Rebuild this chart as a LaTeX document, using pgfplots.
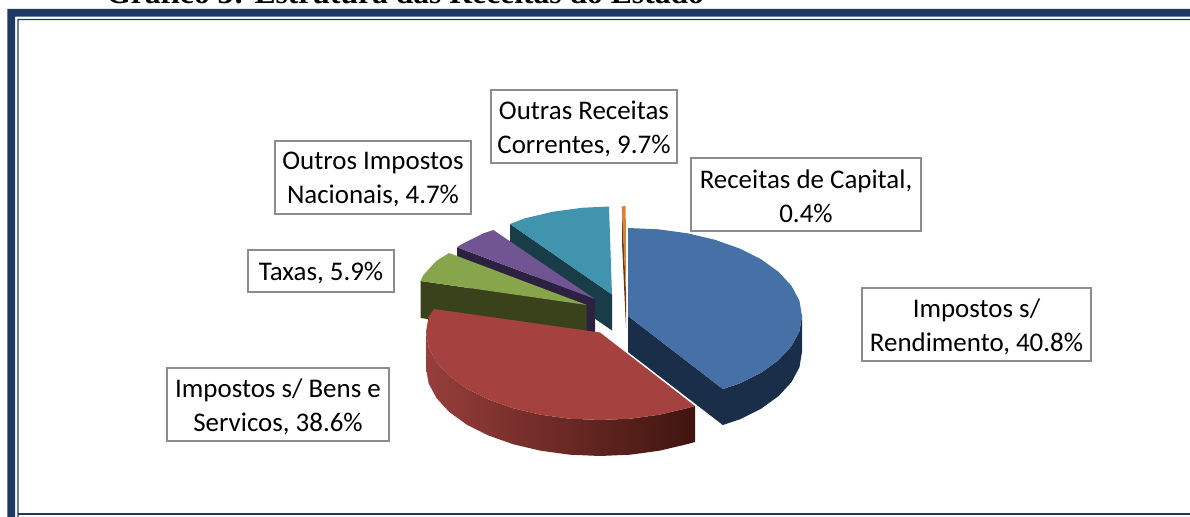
\documentclass[border=0pt]{standalone}
\usepackage{pgfplots}
\pgfplotsset{compat=1.18}
\usepackage{fontspec}
\setmainfont{Carlito}
\newfontfamily\titlefont{Liberation Serif}
\definecolor{frame}{HTML}{1F3864}
\definecolor{boxg}{HTML}{8C8C8C}
\definecolor{cblue}{HTML}{4571A7}
\definecolor{cblueS}{HTML}{1B2E49}
\definecolor{cred}{HTML}{A5423F}
\definecolor{credL}{HTML}{973E3B}
\definecolor{credM}{HTML}{73302C}
\definecolor{credR}{HTML}{40150F}
\definecolor{cgreen}{HTML}{87A54B}
\definecolor{cgreenS}{HTML}{3A421B}
\definecolor{cpurple}{HTML}{715593}
\definecolor{cpurpleS}{HTML}{2C2140}
\definecolor{cteal}{HTML}{4094AD}
\definecolor{ctealS}{HTML}{183C48}
\definecolor{corange}{HTML}{D98137}
\definecolor{corangeS}{HTML}{6B3A12}
\newcommand{\lbl}[5]{\node[draw=boxg,line width=1pt,fill=white,inner sep=0pt,
  minimum width=#3*0.75pt,minimum height=#4*0.75pt] at (axis cs:#1,#2) {};
  \node[inner sep=0pt,align=center,yshift=-1.5pt,font=\fontsize{20.2}{25.5}\selectfont] at (axis cs:#1,#2) {#5};}
\begin{document}
\begin{tikzpicture}
\begin{axis}[hide axis,scale only axis,width=892.5pt,height=387.75pt,
  xmin=0,xmax=1190,ymin=0,ymax=517,y dir=reverse]
% page extent
\addplot[fill=white,draw=none] coordinates {(0,0) (1190,0) (1190,517) (0,517)} -- cycle;
% frame
\addplot[fill=frame,draw=none] coordinates {(7.3,9) (1190,9) (1190,16.7) (15,16.7) (15,517) (7.3,517)} -- cycle;
\addplot[fill=frame,draw=none] coordinates {(17.3,19) (1190,19) (1190,20.2) (18.5,20.2) (18.5,517) (17.3,517)} -- cycle;
\addplot[fill=frame,draw=none] coordinates {(18,512.7) (1190,512.7) (1190,515) (18,515)} -- cycle;
% teal
\addplot[fill=ctealS,draw=none] coordinates {(510,224) (612,294.5) (612,330.5) (510,260)} -- cycle;
\addplot[fill=cteal,draw=none] coordinates {(510,224) (525,218.3) (552.5,211.8) (581.8,207.8) (609,206.5) (612,294.5)} -- cycle;
% orange
\addplot[fill=corangeS,draw=none] coordinates {(622,206.5) (626,292) (626,328) (622,242)} -- cycle;
\addplot[fill=corange,draw=none] coordinates {(621.7,206.5) (625.7,206) (626,292)} -- cycle;
% purple
\addplot[fill=cpurpleS,draw=none] coordinates {(457,247.3) (595,299) (595,335) (457,283.3)} -- cycle;
\addplot[fill=cpurple,draw=none] coordinates {(457,247.3) (462,244) (483,233.5) (493.3,230) (595,299)} -- cycle;
% green
\addplot[fill=cgreenS,draw=none] coordinates {(420.5,281) (586.7,305) (586.7,341) (420.5,318)} -- cycle;
\addplot[fill=cgreen,draw=none] coordinates {(420.5,281) (423.5,274.9) (436.3,261) (449,253) (586.7,305)} -- cycle;
% red
\addplot[draw=none,left color=credL,middle color=credM,right color=credR] coordinates {(426,332) (428.6,347.3) (436.5,362.1) (449.3,376) (466.7,388.6) (488.2,399.4) (513,408.2) (540.5,414.7) (569.8,418.7) (600,420) (630.2,418.7) (659.5,414.7) (687,408.2) (695,406) (695,442) (687,444.2) (659.5,450.7) (630.2,454.7) (600,456) (569.8,454.7) (540.5,450.7) (513,444.2) (488.2,435.4) (466.7,424.6) (449.3,412) (436.5,398.1) (428.6,383.3) (426,368)} -- cycle;
\addplot[fill=cred,draw=none] coordinates {(434,309) (428.6,316.7) (426,332) (428.6,347.3) (436.5,362.1) (449.3,376) (466.7,388.6) (488.2,399.4) (513,408.2) (540.5,414.7) (569.8,418.7) (600,420) (630.2,418.7) (659.5,414.7) (687,408.2) (695,406) (600,332.5)} -- cycle;
% blue
\addplot[fill=cblueS,draw=none] coordinates {(628,316) (722.8,389) (739.8,383.4) (761.3,372.6) (778.7,360) (791.5,346.1) (799.4,331.3) (802,316) (802,352) (799.4,367.3) (791.5,382.1) (778.7,396) (761.3,408.6) (739.8,419.4) (722.8,425) (628,352)} -- cycle;
\addplot[fill=cblue,draw=none] coordinates {(628,316) (628,228) (658.2,229.3) (687.5,233.3) (715,239.8) (739.8,248.6) (761.3,259.4) (778.7,272) (791.5,285.9) (799.4,300.7) (802,316) (799.4,331.3) (791.5,346.1) (778.7,360) (761.3,372.6) (739.8,383.4) (722.8,389)} -- cycle;
% labels
\lbl{584}{126.5}{186}{73}{Outras Receitas\\Correntes, 9.7\%}
\lbl{806}{194.5}{230}{73}{Receitas de Capital,\\0.4\%}
\lbl{373}{177.5}{196}{73}{Outros Impostos\\Nacionais, 4.7\%}
\lbl{321}{271}{146}{42}{Taxas, 5.9\%}
\lbl{976.5}{324.5}{229}{73}{Impostos s/\\Rendimento, 40.8\%}
\lbl{278}{404.5}{222}{73}{Impostos s/ Bens e\\Servicos, 38.6\%}
% title, cut by the top of the picture
\node[overlay,anchor=base west,inner sep=0pt,font=\titlefont\bfseries\fontsize{23.7}{26}\selectfont] at (axis cs:106,4) {Gráfico 3: Estrutura das Receitas do Estado};
\end{axis}
\end{tikzpicture}
\end{document}
